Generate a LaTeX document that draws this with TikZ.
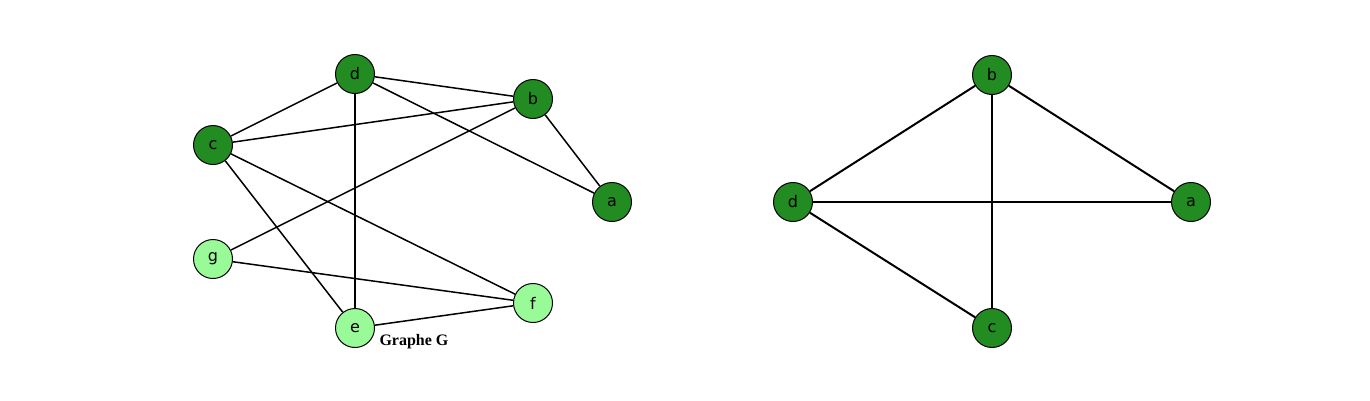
\documentclass[tikz,border=0pt]{standalone}
\usepackage{fontspec}
\setmainfont{DejaVu Sans}
\newfontfamily\labelfont{Liberation Serif}
\definecolor{darkg}{HTML}{228B22}
\definecolor{lightg}{HTML}{98FB98}
\begin{document}
\begin{tikzpicture}[x=1pt,y=-1pt,
  vtx/.style={circle,draw=black,line width=1pt,minimum size=39pt,inner sep=0pt,font=\fontsize{16}{18}\selectfont},
  dk/.style={vtx,fill=darkg},
  lt/.style={vtx,fill=lightg},
  edgeL/.style={line width=1.5pt},
  edgeR/.style={line width=2pt}]
\useasboundingbox (0,0) rectangle (1370,400);
% left graph
\node[dk] (Ld) at (355,74) {d};
\node[dk] (Lb) at (533,99) {b};
\node[dk] (Lc) at (213,145) {c};
\node[dk] (La) at (612,202) {a};
\node[lt] (Lg) at (213,259) {g};
\node[lt] (Lf) at (533,303) {f};
\node[lt] (Le) at (355,328) {e};
\node[font=\labelfont\bfseries\fontsize{16}{18}\selectfont,anchor=west] (lab) at (376,342) {Graphe G};
\draw[edgeL] (Ld) -- (Lb);
\draw[edgeL] (Ld) -- (Lc);
\draw[edgeL] (Ld) -- (La);
\draw[edgeL] (Ld) -- (Le);
\draw[edgeL] (Lc) -- (Lb);
\draw[edgeL] (Lc) -- (Le);
\draw[edgeL] (Lc) -- (Lf);
\draw[edgeL] (Lb) -- (La);
\draw[edgeL] (Lb) -- (Lg);
\draw[edgeL] (Lg) -- (Lf);
\draw[edgeL] (Le) -- (Lf);
% right graph
\node[dk] (Rb) at (992,75) {b};
\node[dk] (Rd) at (793,202) {d};
\node[dk] (Ra) at (1191,202) {a};
\node[dk] (Rc) at (992,328) {c};
\draw[edgeR] (Rb) -- (Rd);
\draw[edgeR] (Rb) -- (Ra);
\draw[edgeR] (Rb) -- (Rc);
\draw[edgeR] (Rd) -- (Ra);
\draw[edgeR] (Rd) -- (Rc);
\end{tikzpicture}
\end{document}
